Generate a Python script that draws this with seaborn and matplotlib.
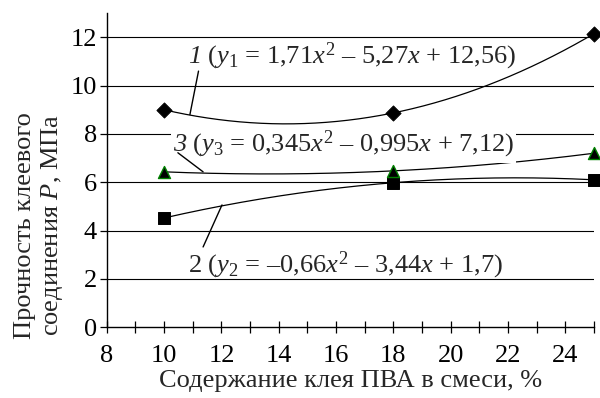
import numpy as np
import pandas as pd
import matplotlib
matplotlib.use("Agg")
import matplotlib.pyplot as plt
import seaborn as sns

# glue content, % and bond strength, MPa
pva_content = [10, 18, 25]
strength_1 = [9.0, 8.87, 12.15]
strength_2 = [4.52, 5.98, 6.1]
strength_3 = [6.43, 6.47, 7.2]

label_1 = r"$\mathcal{1}$ ($y_1$ = 1,71$x^2$ – 5,27$x$ + 12,56)"
label_2 = r"2 ($y_2$ = –0,66$x^2$ – 3,44$x$ + 1,7)"
label_3 = r"$\mathcal{3}$ ($y_3$ = 0,345$x^2$ – 0,995$x$ + 7,12)"

sns.set_style("white")
plt.rcParams["font.family"] = ["Liberation Serif", "DejaVu Serif"]
plt.rcParams["mathtext.fontset"] = "custom"
plt.rcParams["mathtext.rm"] = "Liberation Serif"
plt.rcParams["mathtext.it"] = "Liberation Serif:italic"
plt.rcParams["mathtext.cal"] = "Liberation Serif:italic"

df = pd.DataFrame({"x": pva_content, "s1": strength_1, "s2": strength_2, "s3": strength_3})

fig, ax = plt.subplots(figsize=(6, 3.98), dpi=100)
fig.subplots_adjust(left=0.178, right=0.99, top=0.967, bottom=0.178)

# quadratic trend lines through each series
xs = np.linspace(min(pva_content), max(pva_content), 200)
for col in ["s1", "s2", "s3"]:
    coef = np.polyfit(df["x"], df[col], 2)
    sns.lineplot(x=xs, y=np.polyval(coef, xs), ax=ax, color="black", lw=0.9, zorder=3)

sns.scatterplot(data=df, x="x", y="s1", ax=ax, marker="D", s=60, color="black",
                edgecolor="black", zorder=4, clip_on=False)
sns.scatterplot(data=df, x="x", y="s2", ax=ax, marker="s", s=75, color="black",
                edgecolor="black", zorder=4, clip_on=False)
sns.scatterplot(data=df, x="x", y="s3", ax=ax, marker="^", s=75, color="black",
                edgecolor="green", linewidth=1.0, zorder=4, clip_on=False)

ax.set_xlim(8, 25)
ax.set_ylim(0, 13)
ax.set_xticks(range(8, 25, 2))
ax.set_xticks(range(8, 26), minor=True)
ax.set_yticks(range(0, 13, 2))
for v in range(2, 13, 2):
    ax.axhline(v, color="black", lw=0.8, zorder=1)

for s in ["top", "right"]:
    ax.spines[s].set_visible(False)
for s in ["left", "bottom"]:
    ax.spines[s].set_color("black")
    ax.spines[s].set_linewidth(1.0)

ax.tick_params(axis="x", which="both", direction="inout", length=8, width=0.9,
               bottom=True, labelsize=19, pad=9, colors="black")
ax.tick_params(axis="y", which="major", direction="out", length=5, width=0.9,
               left=True, labelsize=19, pad=2, colors="black")

ax.set_xlabel("Содержание клея ПВА в смеси, %", fontsize=19, labelpad=2)
ax.set_ylabel("Прочность клеевого\nсоединения $P$, МПа", fontsize=19,
              linespacing=1.15)
ax.yaxis.set_label_coords(-0.086, 0.325)

ax.text(10.83, 11.2, label_1, fontsize=19, ha="left", va="center", zorder=5)
ax.text(10.3, 7.55, label_3, fontsize=19, ha="left", va="center", zorder=5,
        bbox=dict(facecolor="white", edgecolor="none", pad=1.5))
ax.text(10.83, 2.55, label_2, fontsize=19, ha="left", va="center", zorder=5)

ax.plot([11.2, 10.9], [10.6, 8.8], color="black", lw=1.0, zorder=5)
ax.plot([10.48, 11.36], [7.22, 6.43], color="black", lw=1.0, zorder=5)
ax.plot([11.36, 12.02], [3.32, 5.06], color="black", lw=1.0, zorder=5)

fig.savefig("out.png", dpi=100)
